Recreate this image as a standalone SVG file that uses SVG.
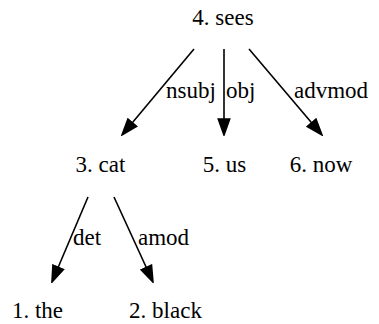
<svg xmlns="http://www.w3.org/2000/svg" width="379" height="324" viewBox="0 0 379 324">
  <style>
    text { font-size: 23px; fill: #000; }
    .node text { text-anchor: middle; }
    .edge { fill: none; stroke: #000; stroke-width: 1.6; marker-end: url(#arrow); }
  </style>
  <defs>
    <marker id="arrow" markerUnits="userSpaceOnUse" viewBox="-1 -7 18 14" markerWidth="18" markerHeight="14" refX="0" refY="0" orient="auto">
      <path d="M0,-5.7 L16,0 L0,5.7 Z" fill="#000" stroke="#000" stroke-width="1.6" stroke-linejoin="miter"/>
    </marker>
  </defs>
  <rect width="379" height="324" fill="#fff"/>

  <g font-family="'Liberation Serif', Tinos, 'Times New Roman', 'DejaVu Serif', serif">
    <!-- dependency arcs -->
    <g id="edges">
      <path class="edge" d="M194,49 L132.3,122.7"/>
      <path class="edge" d="M224,49 L224,119"/>
      <path class="edge" d="M249,49 L311.6,122.8"/>
      <path class="edge" d="M88,197 L58.2,267.3"/>
      <path class="edge" d="M114,197 L146.3,267.5"/>
      <text x="166" y="98">nsubj</text>
      <text x="226" y="98">obj</text>
      <text x="294" y="98">advmod</text>
      <text x="73" y="245">det</text>
      <text x="138" y="245">amod</text>
    </g>

    <!-- tokens -->
    <g id="n4" class="node"><text x="223" y="25">4. sees</text></g>
    <g id="n3" class="node"><text x="100.5" y="172">3. cat</text></g>
    <g id="n5" class="node"><text x="224.5" y="172">5. us</text></g>
    <g id="n6" class="node"><text x="321" y="172">6. now</text></g>
    <g id="n1" class="node"><text x="37.5" y="318">1. the</text></g>
    <g id="n2" class="node"><text x="165.5" y="318">2. black</text></g>
  </g>
</svg>
